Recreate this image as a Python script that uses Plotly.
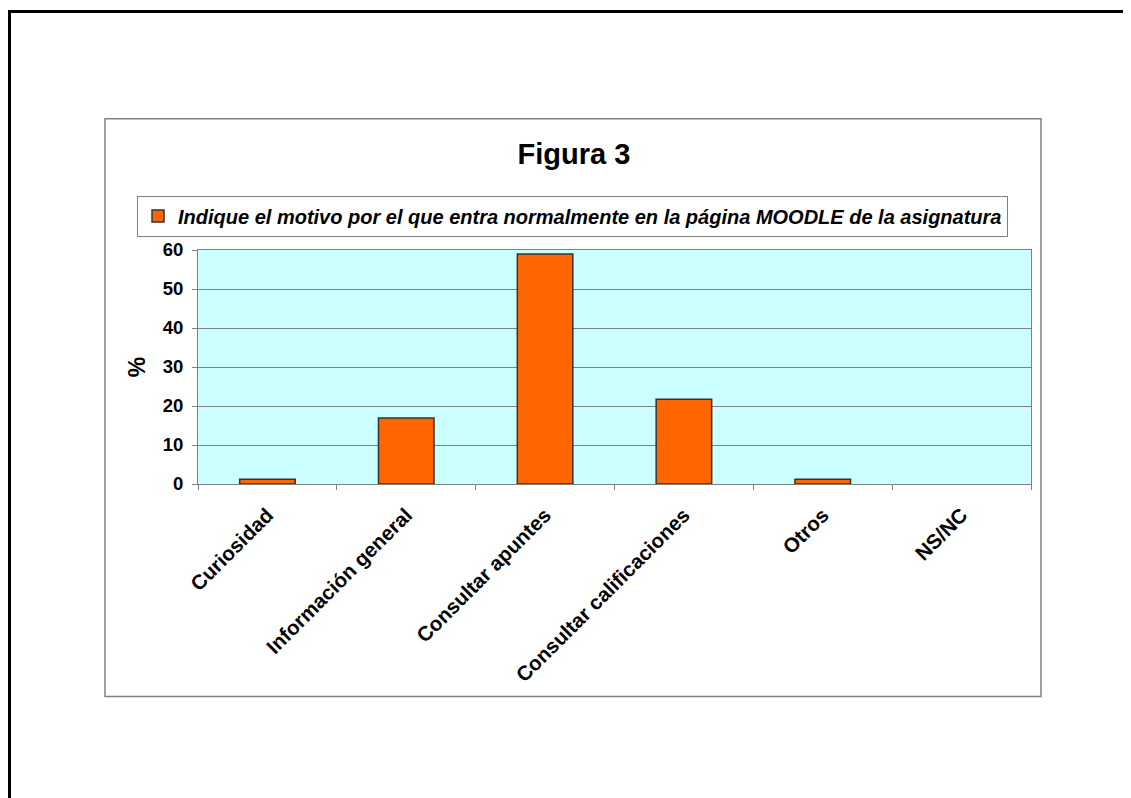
import plotly.graph_objects as go

categories = ["Curiosidad", "Información general", "Consultar apuntes",
              "Consultar calificaciones", "Otros", "NS/NC"]
values = [1.2, 16.9, 59.0, 21.7, 1.2, 0.0]
series_name = "<i>Indique el motivo por el que entra normalmente en la página MOODLE de la asignatura</i>"
title_text = "<b>Figura 3</b>"
y_ticks = [0, 10, 20, 30, 40, 50, 60]

FONT = "Arial, Liberation Sans, sans-serif"

# no outline on zero-height bars
line_widths = [1.5 if v > 0 else 0 for v in values]

fig = go.Figure()
fig.add_trace(go.Bar(
    x=categories, y=values, name=series_name,
    marker=dict(color="#FF6600", line=dict(color="#333333", width=line_widths)),
    showlegend=True,
))

# page offset of 8px (body margin) is compensated for below
OFF = 8
W, H = 1131, 798
L, R, T, B = 198 - OFF, 1031 - OFF, 249.5 - OFF, 484 - OFF
pw, ph = R - L, B - T

def px(x):
    return (x - OFF - L) / pw

def py(y):
    return (B - (y - OFF)) / ph

fig.update_layout(
    width=W, height=H,
    margin=dict(l=L, r=W - R, t=T, b=H - B, pad=0),
    paper_bgcolor="white",
    plot_bgcolor="#CCFFFF",
    font=dict(family=FONT, color="black"),
    bargap=0.6,
    title=dict(text=title_text, x=px(574), xref="paper", xanchor="center",
               y=1 - (154 - OFF) / H, yanchor="middle",
               font=dict(size=29, family=FONT, color="black")),
    showlegend=True,
    legend=dict(x=px(137), y=py(195), xanchor="left", yanchor="top",
                bordercolor="#808080", borderwidth=1, bgcolor="white",
                font=dict(size=20, family=FONT, color="black", weight="bold"),
                itemwidth=30),
    xaxis=dict(type="category", showgrid=False, showline=True, linecolor="#808080",
               linewidth=1, mirror=True, ticks="outside", tickson="boundaries",
               ticklen=5, tickcolor="#808080", tickangle=-45, ticklabelstandoff=10,
               tickfont=dict(size=20.5, family=FONT, color="black", weight="bold")),
    yaxis=dict(range=[0, 60], tickvals=y_ticks, showgrid=True, gridcolor="#808080",
               gridwidth=1, showline=True, linecolor="#808080", linewidth=1,
               mirror=True, ticks="outside", ticklen=5, tickcolor="#808080",
               zeroline=False, ticklabelstandoff=5,
               tickfont=dict(size=18.5, family=FONT, color="black", weight="bold"),
               title=dict(text="%", standoff=10,
                          font=dict(size=23, family=FONT, color="black", weight="bold"))),
    shapes=[
        dict(type="rect", xref="paper", yref="paper",
             x0=px(105), x1=px(1041), y0=py(697), y1=py(118),
             line=dict(color="#808080", width=1.5), fillcolor="rgba(0,0,0,0)", layer="below"),
        dict(type="rect", xref="paper", yref="paper",
             x0=px(9.5), x1=px(1250), y0=py(950), y1=py(10.5),
             line=dict(color="black", width=3), fillcolor="rgba(0,0,0,0)", layer="below"),
    ],
)

fig.write_html("out.html")
